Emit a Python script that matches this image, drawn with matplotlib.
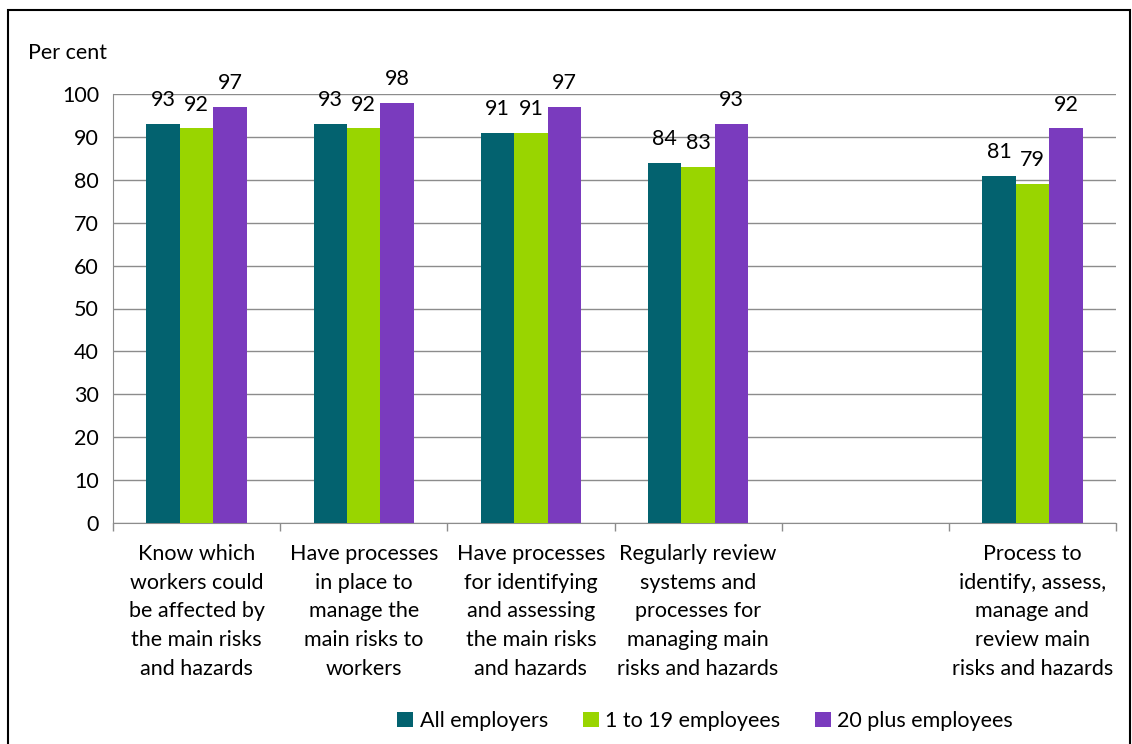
import numpy as np
import matplotlib.pyplot as plt

plt.rcParams['font.family'] = ['Lato', 'DejaVu Sans']

categories = [
    "Know which\nworkers could\nbe affected by\nthe main risks\nand hazards",
    "Have processes\nin place to\nmanage the\nmain risks to\nworkers",
    "Have processes\nfor identifying\nand assessing\nthe main risks\nand hazards",
    "Regularly review\nsystems and\nprocesses for\nmanaging main\nrisks and hazards",
    "",
    "Process to\nidentify, assess,\nmanage and\nreview main\nrisks and hazards",
]
all_emp = [93, 93, 91, 84, None, 81]
small_emp = [92, 92, 91, 83, None, 79]
large_emp = [97, 98, 97, 93, None, 92]
series_names = ["All employers", "1 to 19 employees", "20 plus employees"]
colors = ["#03626F", "#99D500", "#7A3BBE"]

fs = 15.5

fig = plt.figure(figsize=(11.32, 7.44), dpi=100)
ax = fig.add_axes([113 / 1132, 1 - 523 / 744, (1116 - 113) / 1132, (523 - 94) / 744])

x = np.arange(len(categories))
w = 0.2
for i, (vals, name, c) in enumerate(zip([all_emp, small_emp, large_emp], series_names, colors)):
    xs = [xi + (i - 1) * w for xi, v in zip(x, vals) if v is not None]
    vs = [v for v in vals if v is not None]
    bars = ax.bar(xs, vs, width=w, color=c, label=name, zorder=3)
    for b, v in zip(bars, vs):
        ax.text(b.get_x() + b.get_width() / 2, v + 3.2, str(v), ha="center", va="bottom", fontsize=fs)

ax.set_xlim(-0.5, len(categories) - 0.5)
ax.set_ylim(0, 100)
ax.set_yticks(range(0, 101, 10))
ax.tick_params(axis="y", length=0, labelsize=fs, pad=10)
ax.yaxis.grid(True, color="#8C8C8C", linewidth=1, zorder=0)
ax.set_xticks(x)
ax.set_xticklabels(categories, fontsize=fs, linespacing=1.55)
ax.tick_params(axis="x", length=0, pad=15)
ax.set_xticks(np.arange(-0.5, len(categories), 1), minor=True)
ax.tick_params(axis="x", which="minor", length=6, color="#8C8C8C", width=1)
for s in ["top", "right"]:
    ax.spines[s].set_visible(False)
for s in ["left", "bottom"]:
    ax.spines[s].set_color("#8C8C8C")

fig.text(28 / 1132, 1 - 53 / 744, "Per cent", fontsize=fs, va="center")

fig.legend(loc="center", bbox_to_anchor=(0.623, 1 - 721 / 744), ncol=3, frameon=False,
           fontsize=fs, handlelength=0.75, handleheight=0.75, handletextpad=0.3, columnspacing=1.6)

fig.patches.append(plt.Rectangle((8 / 1132, -0.01), 1 - 10 / 1132, 1.01 - 10 / 744, transform=fig.transFigure,
                                 fill=False, edgecolor="black", linewidth=1.5))

fig.savefig("out.png", dpi=100)
